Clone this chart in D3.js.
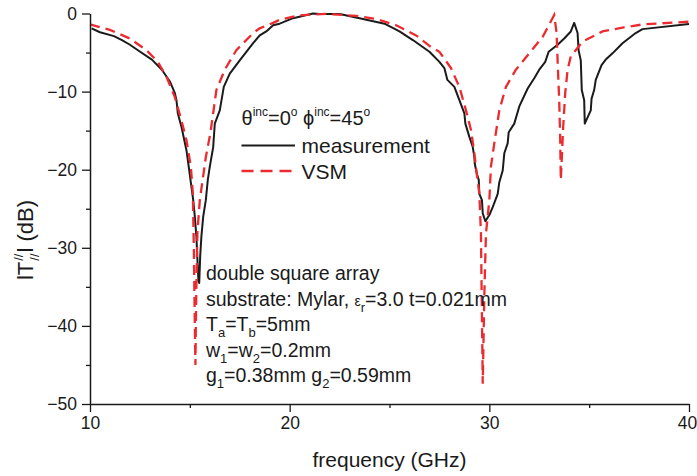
<!DOCTYPE html>
<html>
<head>
<meta charset="utf-8">
<script src="https://cdn.jsdelivr.net/npm/d3@7"></script>
<style>
  html, body { margin: 0; padding: 0; background: #fff; }
  svg { display: block; font-family: "Liberation Sans", Arial, Helvetica, sans-serif; }
</style>
</head>
<body>
<svg id="chart" width="697" height="476"></svg>
<script>
// Frequency axis ticks (GHz) and |T| axis ticks (dB)
const xTicks = [10, 20, 30, 40];
const xMinorTicks = [15, 25, 35];
const yTicks = [0, -10, -20, -30, -40, -50];
const yMinorTicks = [-5, -15, -25, -35, -45];

// Measured transmission: frequency (GHz)
const measFreq = [
  10.08, 10.5, 11.2, 11.6, 12.0, 12.4, 13.1, 13.6, 14.0, 14.25, 14.33, 14.4, 14.58, 14.83,
  14.97, 15.08, 15.17, 15.25, 15.33, 15.38, 15.43, 15.47, 15.52, 15.58, 15.67, 15.8, 15.9,
  16.0, 16.17, 16.25, 16.5, 16.7, 17.0, 17.5, 18.17, 18.5, 18.83, 19.17, 19.5, 20.17, 20.33,
  21.17, 21.5, 22.5, 23.5, 24.75, 25.5, 26.17, 27.0, 27.5, 27.75, 27.9, 28.25, 28.5, 28.75,
  28.8, 29.0, 29.17, 29.25, 29.27, 29.37, 29.47, 29.5, 29.63, 29.67, 29.8, 30.0, 30.17,
  30.42, 30.5, 30.67, 30.75, 30.92, 30.97, 31.25, 31.5, 31.92, 32.25, 32.5, 32.8, 32.97,
  33.42, 33.75, 34.08, 34.25, 34.42, 34.47, 34.58, 34.63, 34.75, 34.78, 35.08, 35.12, 35.25,
  35.33, 35.62, 35.83, 36.17, 36.67, 37.33, 37.67, 40.0
];
// Measured transmission: |T| (dB)
const measDb = [
  -1.9, -2.4, -2.9, -3.4, -4.0, -4.7, -5.9, -7.2, -8.7, -10.2, -11.1, -12.8, -14.5, -17.5,
  -20.1, -22.2, -23.9, -26.0, -28.6, -31.5, -34.2, -34.5, -31.0, -28.5, -26.0, -23.9, -21.3,
  -19.6, -17.1, -14.1, -12.4, -9.4, -7.7, -6.0, -3.8, -2.8, -2.3, -1.5, -1.3, -0.6, -0.5,
  0.0, -0.05, -0.06, -0.6, -1.3, -2.3, -3.4, -4.9, -6.2, -7.0, -8.5, -9.4, -11.1, -12.8,
  -14.1, -15.8, -17.1, -18.4, -19.2, -20.5, -21.3, -23.1, -23.9, -25.6, -26.6, -25.8, -24.8,
  -23.1, -21.6, -20.1, -17.9, -16.6, -15.2, -14.1, -11.9, -9.6, -8.3, -7.2, -6.2, -4.9,
  -4.0, -3.2, -2.3, -1.2, -2.5, -4.7, -6.0, -9.8, -11.1, -14.1, -12.4, -10.9, -9.8,
  -8.5, -6.6, -5.9, -5.1, -3.8, -2.5, -2.0, -1.35
];

// VSM simulation: frequency (GHz)
const vsmFreq = [
  10.0, 11.0, 12.0, 12.83, 13.4, 13.83, 14.25, 14.58, 14.83, 15.05, 15.15, 15.2, 15.25, 15.28,
  15.32, 15.38, 15.5, 15.8, 16.03, 16.33, 16.75, 17.33, 18.17, 18.5, 19.17, 19.5, 20.33, 20.67,
  21.83, 23.33, 24.33, 25.33, 26.33, 27.08, 27.5, 28.08, 28.5, 28.83, 29.08, 29.25, 29.37,
  29.5, 29.58, 29.67, 29.75, 29.83, 30.0, 30.08, 30.25, 30.5, 30.83, 31.33, 32.0, 32.67,
  33.25, 33.37, 33.43, 33.5, 33.55, 33.58, 33.7, 33.8, 33.92, 34.08, 34.67, 35.67, 36.67,
  37.67, 40.0
];
// VSM simulation: |T| (dB)
const vsmDb = [
  -1.4, -2.1, -3.2, -4.7, -6.2, -8.1, -10.7, -13.7, -16.2, -19.6, -23.0, -30.0, -40.0, -45.0,
  -36.0, -28.0, -23.9, -18.4, -15.3, -9.8, -7.2, -4.7, -2.5, -1.9, -1.2, -0.8, -0.3, -0.2,
  -0.06, -0.3, -0.7, -1.5, -2.8, -4.3, -4.9, -7.0, -9.4, -12.4, -14.9, -17.9, -20.5,
  -23.1, -28.2, -47.4, -36.0, -28.2, -23.9, -19.6, -16.6, -12.4, -9.4, -7.2, -5.1, -3.0,
  -0.2, -2.5, -6.8, -11.1, -16.2, -21.3, -14.5, -10.2, -7.2, -5.5, -3.6, -2.3, -1.8,
  -1.4, -1.05
];

const seriesNames = ["measurement", "VSM"];
const seriesColors = ["#1b1b1b", "#ec2b30"];

const svg = d3.select("#chart");

const x = d3.scaleLinear().domain([10, 40]).range([90, 689]);
const y = d3.scaleLinear().domain([-50, 0]).range([404, 13.5]);

const measData = measFreq.map((f, i) => [f, measDb[i]]);
const vsmData = vsmFreq.map((f, i) => [f, vsmDb[i]]);

const line = d3.line().x(d => x(d[0])).y(d => y(d[1]));

// Curves
svg.append("path")
  .datum(measData)
  .attr("d", line)
  .attr("fill", "none")
  .attr("stroke", seriesColors[0])
  .attr("stroke-width", 2)
  .attr("stroke-linejoin", "round");

svg.append("path")
  .datum(vsmData)
  .attr("d", line)
  .attr("fill", "none")
  .attr("stroke", seriesColors[1])
  .attr("stroke-width", 2.3)
  .attr("stroke-dasharray", "10,6");

// Axes
function styleAxis(g) {
  g.selectAll("path.domain").attr("stroke", "#1a1a1a").attr("stroke-width", 1.5);
  g.selectAll(".tick line").attr("stroke", "#1a1a1a").attr("stroke-width", 1.3);
  g.selectAll(".tick text")
    .attr("fill", "#1a1a1a")
    .style("font-family", "'Liberation Sans', Arial, sans-serif")
    .style("font-size", "17.5px");
}

const xAxisG = svg.append("g")
  .attr("transform", `translate(0,${y(-50)})`)
  .call(d3.axisBottom(x).tickValues(xTicks).tickSize(8).tickSizeOuter(0).tickPadding(5)
    .tickFormat(d3.format("d")));
styleAxis(xAxisG);
// keep the last label inside the canvas
xAxisG.selectAll(".tick text").filter(d => d === 40).attr("dx", -2);

svg.append("g")
  .attr("transform", `translate(0,${y(-50)})`)
  .call(d3.axisBottom(x).tickValues(xMinorTicks).tickSize(4).tickSizeOuter(0).tickFormat(""))
  .call(g => g.select("path.domain").remove())
  .call(styleAxis);

const yAxisG = svg.append("g")
  .attr("transform", `translate(${x(10)},0)`)
  .call(d3.axisLeft(y).tickValues(yTicks).tickSize(8).tickSizeOuter(0).tickPadding(5)
    .tickFormat(d3.format("d")));
styleAxis(yAxisG);

svg.append("g")
  .attr("transform", `translate(${x(10)},0)`)
  .call(d3.axisLeft(y).tickValues(yMinorTicks).tickSize(4).tickSizeOuter(0).tickFormat(""))
  .call(g => g.select("path.domain").remove())
  .call(styleAxis);

// Axis titles
svg.append("text")
  .attr("x", (x(10) + x(40)) / 2)
  .attr("y", 467)
  .attr("text-anchor", "middle")
  .attr("fill", "#1a1a1a")
  .style("font-size", "21px")
  .text("frequency (GHz)");

const yTitle = svg.append("text")
  .attr("transform", "translate(33,240) rotate(-90)")
  .attr("text-anchor", "middle")
  .attr("fill", "#1a1a1a")
  .style("font-size", "22px");
yTitle.append("tspan").text("lT");
yTitle.append("tspan").attr("dx", 1).attr("dy", -10).style("font-size", "13px").text("//");
yTitle.append("tspan").attr("dx", -7.2).attr("dy", 16).style("font-size", "13px").text("//");
yTitle.append("tspan").attr("dx", 1).attr("dy", -6).text("l (dB)");

// Legend
const legendX = 241.5;
const theta = svg.append("text")
  .attr("x", legendX)
  .attr("y", 125)
  .attr("fill", "#1a1a1a")
  .style("font-size", "20px");
theta.append("tspan").text("θ");
theta.append("tspan").attr("dy", -9).style("font-size", "12px").text("inc");
theta.append("tspan").attr("dy", 9).text("=0");
theta.append("tspan").attr("dy", -9).style("font-size", "12px").text("o");
theta.append("tspan").attr("dy", 9).text(" ϕ");
theta.append("tspan").attr("dy", -9).style("font-size", "12px").text("inc");
theta.append("tspan").attr("dy", 9).text("=45");
theta.append("tspan").attr("dy", -9).style("font-size", "12px").text("o");

const legendRows = [145.5, 171];
seriesNames.forEach((name, i) => {
  const ly = legendRows[i];
  svg.append("line")
    .attr("x1", legendX).attr("x2", 295)
    .attr("y1", ly).attr("y2", ly)
    .attr("stroke", seriesColors[i])
    .attr("stroke-width", i === 0 ? 2 : 2.3)
    .attr("stroke-dasharray", i === 0 ? null : "12,7");
  svg.append("text")
    .attr("x", 301.5)
    .attr("y", ly + 7.5)
    .attr("fill", "#1a1a1a")
    .style("font-size", "21px")
    .text(name);
});

// Structure description
const noteX = 206;
const noteBase = 280;
const noteStep = 25.5;
const noteSize = "19.5px";
const subSize = "13px";

function noteLine(i) {
  return svg.append("text")
    .attr("x", noteX)
    .attr("y", noteBase + i * noteStep)
    .attr("fill", "#1a1a1a")
    .style("font-size", noteSize);
}
function sub(t, s) {
  t.append("tspan").attr("dy", 6).style("font-size", subSize).text(s);
}
function back(t, s) {
  t.append("tspan").attr("dy", -6).text(s);
}

noteLine(0).text("double square array");

const l1 = noteLine(1);
l1.append("tspan").text("substrate: Mylar, ");
l1.append("tspan").style("font-size", "14px").text("ε");
sub(l1, "r");
back(l1, "=3.0 t=0.021mm");

const l2 = noteLine(2);
l2.append("tspan").text("T");
sub(l2, "a");
back(l2, "=T");
sub(l2, "b");
back(l2, "=5mm");

const l3 = noteLine(3);
l3.append("tspan").text("w");
sub(l3, "1");
back(l3, "=w");
sub(l3, "2");
back(l3, "=0.2mm");

const l4 = noteLine(4);
l4.append("tspan").text("g");
sub(l4, "1");
back(l4, "=0.38mm g");
sub(l4, "2");
back(l4, "=0.59mm");
</script>
</body>
</html>
